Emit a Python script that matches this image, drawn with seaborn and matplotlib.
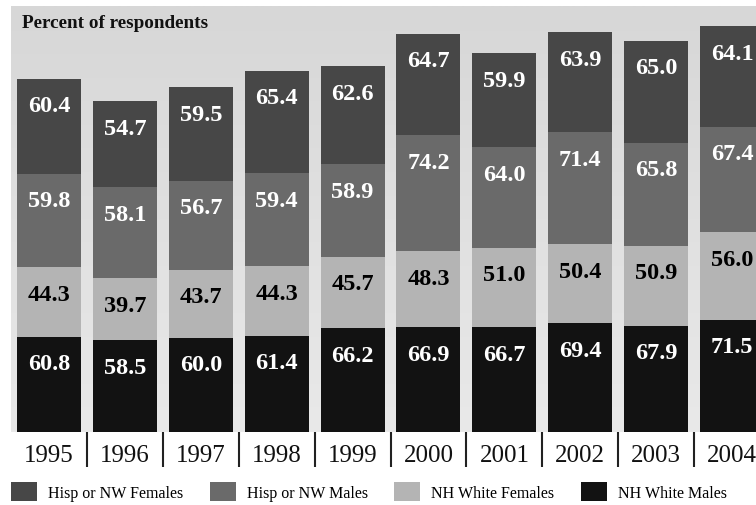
import numpy as np
import pandas as pd
import matplotlib
matplotlib.use("Agg")
import matplotlib.pyplot as plt
from matplotlib.patches import Patch
from matplotlib.ticker import FixedLocator
import seaborn as sns

years = ["1995", "1996", "1997", "1998", "1999", "2000", "2001", "2002", "2003", "2004"]
nh_white_males = [60.8, 58.5, 60.0, 61.4, 66.2, 66.9, 66.7, 69.4, 67.9, 71.5]
nh_white_females = [44.3, 39.7, 43.7, 44.3, 45.7, 48.3, 51.0, 50.4, 50.9, 56.0]
hisp_nw_males = [59.8, 58.1, 56.7, 59.4, 58.9, 74.2, 64.0, 71.4, 65.8, 67.4]
hisp_nw_females = [60.4, 54.7, 59.5, 65.4, 62.6, 64.7, 59.9, 63.9, 65.0, 64.1]

series_names = ["NH White Males", "NH White Females", "Hisp or NW Males", "Hisp or NW Females"]
series_vals = [nh_white_males, nh_white_females, hisp_nw_males, hisp_nw_females]
series_colors = ["#121212", "#b4b4b4", "#6a6a6a", "#474747"]
label_colors = ["white", "black", "white", "white"]

df = pd.DataFrame({"year": years})
for n, v in zip(series_names, series_vals):
    df[n] = v
cum = df[series_names].cumsum(axis=1)

serif = ["Liberation Serif", "DejaVu Serif"]

fig = plt.figure(figsize=(7.56, 5.06), dpi=100)
fig.patch.set_facecolor("white")
ax = fig.add_axes([11/756, (506-433)/506, 1-11/756, (433-7)/506])

# background gradient panel
grad = np.linspace(0, 1, 256).reshape(-1, 1)
ax.imshow(grad, extent=[0, 1, 0, 1], transform=ax.transAxes,
          cmap=matplotlib.colors.LinearSegmentedColormap.from_list("g", ["#e9e9e9", "#d7d7d7"]),
          aspect="auto", zorder=0, origin="lower")

# draw stacked bars from top cumulative down
for k in range(3, -1, -1):
    sns.barplot(x=df["year"], y=cum[series_names[k]], color=series_colors[k], width=0.843,
                saturation=1, linewidth=0, errorbar=None, ax=ax, zorder=2)

# value labels
for k in range(4):
    tops = cum[series_names[k]].values
    vals = series_vals[k]
    for i, (t, v) in enumerate(zip(tops, vals)):
        ax.annotate(f"{v:.1f}", xy=(i, t), xytext=(0, -19.4), textcoords="offset points",
                    ha="center", va="center", fontsize=17.5, fontweight="bold",
                    color=label_colors[k], family=serif, zorder=5, annotation_clip=False)

ax.set_xlim(-0.5, (756-49)/75.9)
ax.set_ylim(0, 426/1.567)
ax.set_xlabel("")
ax.set_ylabel("")
ax.set_yticks([])
for s in ax.spines.values():
    s.set_visible(False)

ax.xaxis.set_minor_locator(FixedLocator([i + 0.5 for i in range(9)]))
ax.tick_params(axis="x", which="major", length=0, pad=8.5, labelsize=18)
ax.tick_params(axis="x", which="minor", length=25, width=1.5, color="#222222", direction="out")
for lab in ax.get_xticklabels():
    lab.set_family(serif)
    lab.set_color("#111111")

fig.text(22/756, 1-24/506, "Percent of respondents", fontsize=13.8, fontweight="bold",
         family=serif, va="center", ha="left", color="#111111")

handles = [Patch(facecolor=series_colors[k], edgecolor="none") for k in [3, 2, 1, 0]]
labels = [series_names[k] for k in [3, 2, 1, 0]]
fig.legend(handles, labels, loc="upper left", bbox_to_anchor=(11/756, 1-483/506), ncol=4,
           frameon=False, prop={"family": serif, "size": 11.5}, handlelength=1.63,
           handleheight=1.5, handletextpad=0.69, columnspacing=1.65, borderpad=0, borderaxespad=0)

fig.savefig("out.png", dpi=100, facecolor="white")
